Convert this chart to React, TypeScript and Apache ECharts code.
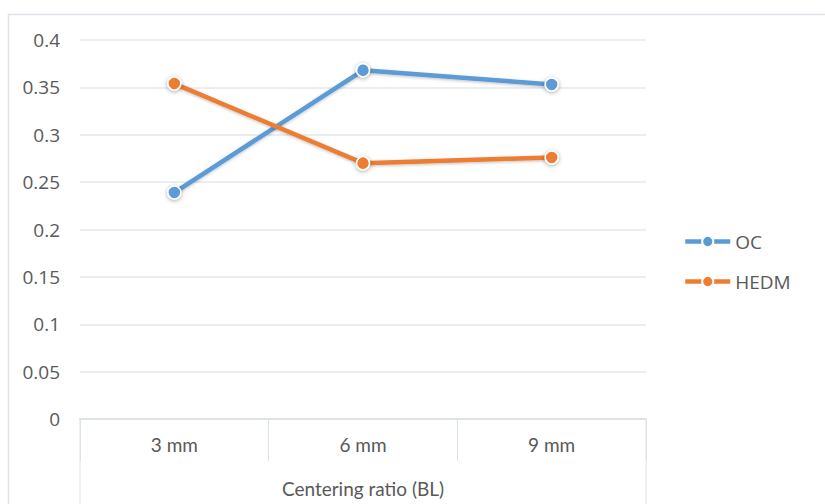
import React, { useEffect, useRef } from "react";
import * as echarts from "echarts";

const categories = ["3 mm", "6 mm", "9 mm"];
const ocValues = [0.239, 0.368, 0.353];
const hedmValues = [0.354, 0.27, 0.276];
const seriesNames = ["OC", "HEDM"];
const axisTitle = "Centering ratio (BL)";

const BLUE = "#5B9BD5";
const ORANGE = "#ED7D31";
const TEXT = "#595959";
const GRID_LINE = "#e3e7ee";

export default function App() {
  const ref = useRef<HTMLDivElement>(null);

  useEffect(() => {
    if (!ref.current) return;
    const chart = echarts.init(ref.current, undefined, { renderer: "svg" });

    const makeSeries = (name: string, data: number[], color: string) => ({
      name,
      type: "line",
      data,
      symbol: "circle",
      symbolSize: 13,
      lineStyle: {
        width: 4.5,
        color,
        shadowBlur: 3,
        shadowColor: "rgba(0,0,0,0.25)",
        shadowOffsetY: 1,
      },
      itemStyle: {
        color,
        borderColor: "#ffffff",
        borderWidth: 1.5,
        shadowBlur: 4,
        shadowColor: "rgba(0,0,0,0.35)",
        shadowOffsetY: 1,
      },
    });

    chart.setOption({
      animation: false,
      backgroundColor: "#ffffff",
      textStyle: { fontFamily: "Open Sans" },
      grid: {
        left: 80,
        right: 179,
        top: 40,
        bottom: 85,
        containLabel: false,
        outerBoundsMode: "none",
      },
      legend: {
        orient: "vertical",
        left: 683,
        top: 232,
        padding: 0,
        itemWidth: 45,
        itemHeight: 14,
        itemGap: 21,
        lineStyle: { width: 4.5 },
        textStyle: { color: TEXT, fontSize: 19, fontFamily: "Open Sans" },
        data: seriesNames,
      },
      xAxis: {
        type: "category",
        data: categories,
        boundaryGap: true,
        name: axisTitle,
        nameLocation: "middle",
        nameGap: 60,
        nameTextStyle: { color: TEXT, fontSize: 19, fontFamily: "Lato" },
        axisLine: { show: true, lineStyle: { color: "#dde1e8", width: 2 } },
        axisTick: {
          show: true,
          interval: 0,
          length: 42,
          lineStyle: { color: "#dde1e8", width: 1 },
        },
        axisLabel: {
          color: TEXT,
          fontSize: 19,
          fontFamily: "Lato",
          margin: 16,
        },
        splitLine: { show: false },
      },
      yAxis: {
        type: "value",
        min: 0,
        max: 0.4,
        interval: 0.05,
        axisLine: { show: false },
        axisTick: { show: false },
        axisLabel: {
          color: TEXT,
          fontSize: 19,
          margin: 20,
          formatter: (v: number) => String(parseFloat(v.toFixed(2))),
        },
        splitLine: { show: true, lineStyle: { color: GRID_LINE, width: 1.5 } },
      },
      graphic: [
        {
          type: "rect",
          z: -10,
          shape: { x: 8.5, y: 14.5, width: 830, height: 500 },
          style: { fill: "none", stroke: "#dfe3ea", lineWidth: 1.5 },
        },
        {
          type: "line",
          shape: { x1: 80, y1: 419, x2: 80, y2: 504 },
          style: { stroke: "#dde1e8", lineWidth: 1 },
        },
        {
          type: "line",
          shape: { x1: 646, y1: 419, x2: 646, y2: 504 },
          style: { stroke: "#dde1e8", lineWidth: 1 },
        },
      ],
      series: [
        makeSeries(seriesNames[0], ocValues, BLUE),
        makeSeries(seriesNames[1], hedmValues, ORANGE),
      ],
    });

    return () => chart.dispose();
  }, []);

  return (
    <div
      ref={ref}
      style={{ position: "fixed", left: 0, top: 0, width: 825, height: 504 }}
    />
  );
}
